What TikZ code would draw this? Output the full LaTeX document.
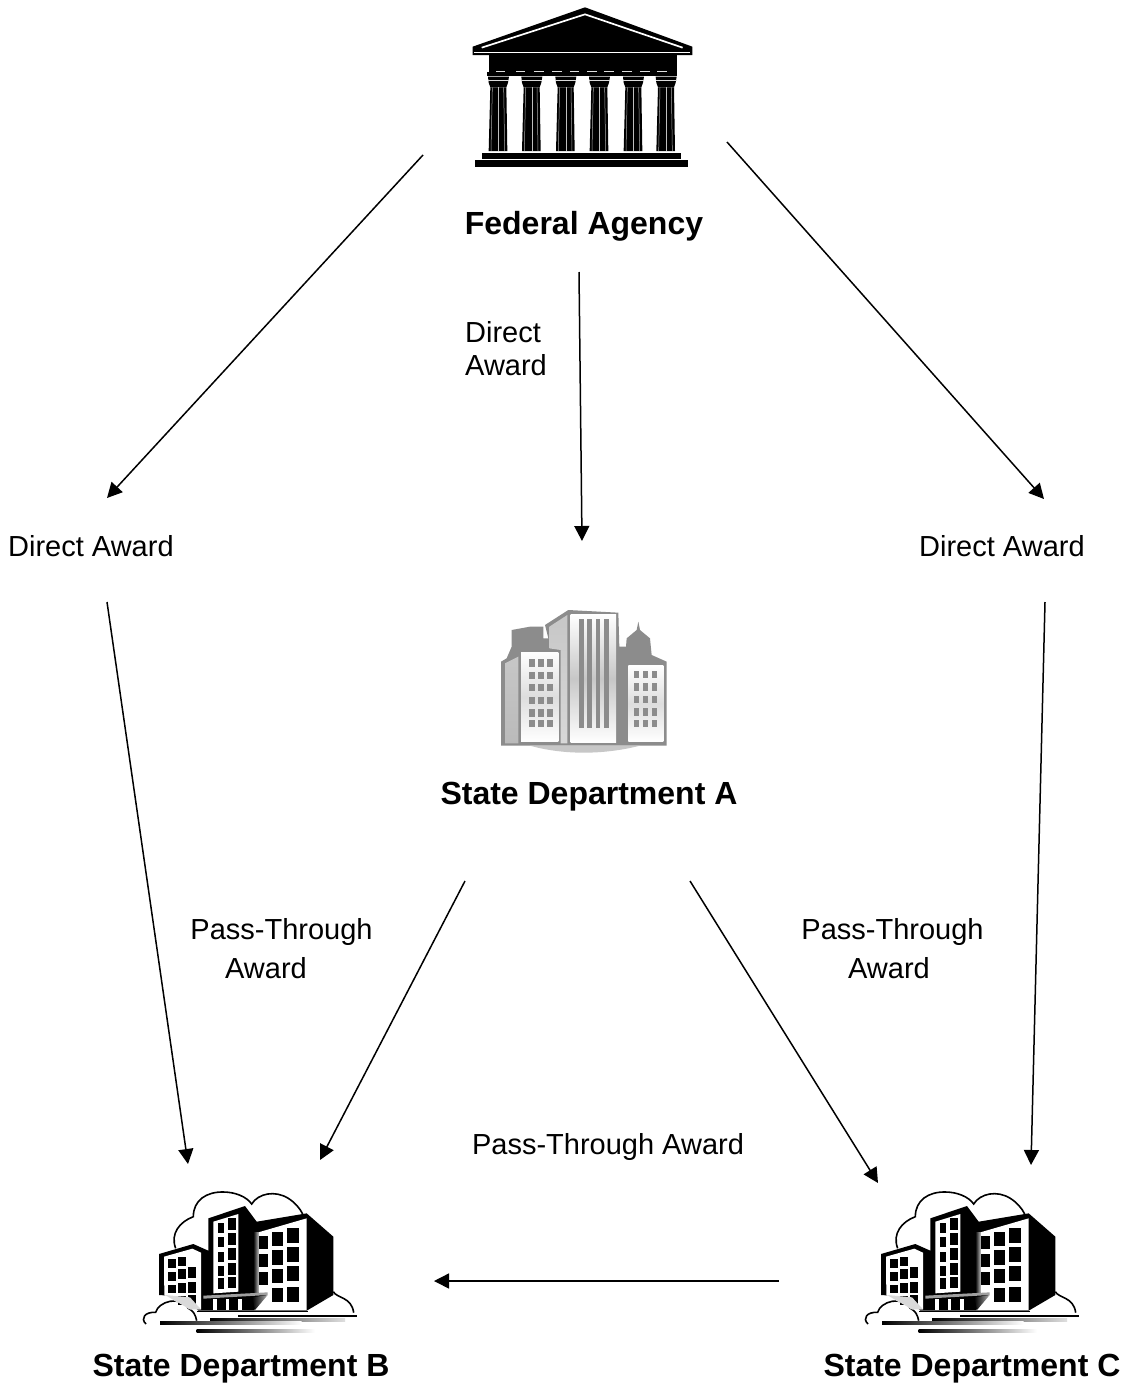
\documentclass[tikz,border=0pt]{standalone}
\usepackage{fontspec}
\setmainfont{Liberation Sans}
\usetikzlibrary{arrows.meta}
\newcommand{\regfont}{\fontsize{29}{33}\selectfont}
\newcommand{\boldfont}{\fontsize{32}{36}\selectfont\bfseries}
\definecolor{citygray}{gray}{0.55}
\definecolor{citylight}{gray}{0.78}
\tikzset{
  flow/.style={draw=black,line width=1.5pt,-{Triangle[length=15pt,width=15pt]}},
  plainlabel/.style={inner sep=0pt,font=\regfont,anchor=base},
  leftlabel/.style={inner sep=0pt,font=\regfont,anchor=base west},
  titlelabel/.style={inner sep=0pt,font=\boldfont,anchor=base},
  pics/temple/.style={code={
    \fill (38,140)--(375,22)--(697,140)--(697,165)--(38,165)--cycle;
    \draw[white,line width=1.7pt] (65,143)--(375,43)--(668,143);
    \draw[white,line width=1.3pt] (42,158)--(690,158);
    \fill (88,165) rectangle (650,216);
    \fill (82,216) rectangle (652,228);
    \foreach \a/\b in {108/135,168/195,222/252,276/305,330/358,382/410,433/462,487/516,540/570,592/622}
      \draw[gray!25,line width=1.3pt] (\a,214)--(\b,214);
    \foreach \c in {115,215,317,418,520,618}{
      \fill (\c-31,230)--(\c+32,230)--(\c+29,248)--(\c+24,262)--(\c-24,262)--(\c-29,248)--cycle;
      \draw[gray!30,line width=.5pt] (\c-31,240)--(\c+32,240);
      \fill (\c-24,262)--(\c+24,262)--(\c+27,453)--(\c-29,453)--cycle;
      \draw[gray!65,line width=.5pt] (\c-18,262)--(\c-22,453) (\c+16,262)--(\c+19,453);
      \draw[gray!50,line width=.3pt] (\c,262)--(\c,453);
    }
    \fill (65,458) rectangle (663,477);
    \fill (45,480) rectangle (685,500);
  }},
  pics/city/.style={code={
    \fill[citygray] (65,90)--(120,80)--(160,80)--(160,115)--(175,115)--(165,75)--(235,30)--(385,38)--(388,140)--(408,140)--(410,115)--(440,90)--(445,65)--(450,90)--(480,115)--(485,165)--(530,185)--(530,437)--(33,437)--(33,185)--(50,175)--(65,140)--cycle;
    \shade[top color=citylight,bottom color=citylight!70!white] (178,80)--(232,45)--(232,430)--(212,430)--(212,150)--(178,145)--cycle;
    \shade[top color=citylight,bottom color=citygray!60!white] (45,190)--(85,170)--(85,430)--(45,430)--cycle;
    \shade[top color=white,bottom color=white,middle color=citylight] (242,42) rectangle (378,428);
    \foreach \x in {267,292,317,343}
      \fill[citygray] (\x,57) rectangle (\x+14,385);
    \shade[top color=white,bottom color=white,middle color=citylight!60!white] (93,157) rectangle (205,425);
    \shade[top color=white,bottom color=white,middle color=citylight!60!white] (415,197) rectangle (520,425);
    \foreach \x in {118,145,172}\foreach \y in {178,215,252,290,328,360}
      \fill[citygray] (\x,\y) rectangle (\x+16,\y+22);
    \foreach \x in {432,458,485}\foreach \y in {213,250,287,325,360}
      \fill[citygray] (\x,\y) rectangle (\x+15,\y+22);
    \fill[citylight] (120,437) .. controls (220,465) and (340,465) .. (450,437)--cycle;
  }},
  pics/office/.style={code={
    % clouds
    \draw[line width=1.6pt] (122,205) .. controls (105,160) and (135,125) .. (175,110)
      .. controls (175,60) and (215,35) .. (265,36) .. controls (300,36) and (335,50) .. (350,72)
      .. controls (370,40) and (420,30) .. (460,55) .. controls (480,68) and (495,85) .. (503,102);
    \draw[line width=1.6pt] (595,335) .. controls (605,355) and (650,350) .. (656,398);
    \draw[line width=1.6pt] (33,432) .. controls (15,415) and (30,395) .. (62,397)
      .. controls (70,365) and (135,345) .. (160,385) .. controls (175,392) and (182,405) .. (185,422);
    % black masses
    \fill (220,115)--(330,78)--(365,125)--(515,100)--(595,170)--(595,345)--(515,392)--(190,392)--(150,350)--(72,345)--(72,222)--(175,192)--(220,212)--cycle;
    % right block
    \fill[white] (370,157)--(515,115)--(515,390)--(358,390)--(395,345)--(370,338)--cycle;
    \shade[left color=black,right color=gray!60] (355,157) rectangle (370,338);
    \foreach \xa/\xb/\ya/\yb in {
      372/400/168/207, 412/445/157/198, 457/492/145/188,
      372/400/222/262, 412/445/211/255, 457/492/202/246,
      372/400/275/315, 412/445/266/310, 457/492/258/304,
      412/445/325/367, 457/492/320/365}
      \fill (\xa,\ya) rectangle (\xb,\yb);
    % middle block
    \fill[white] (235,125)--(310,102)--(310,335)--(235,340)--cycle;
    \foreach \xa/\xb/\ya/\yb in {
      248/268/128/158, 280/303/115/150,
      248/268/170/200, 280/303/160/194,
      248/268/215/245, 280/303/205/240,
      248/268/258/288, 280/303/250/285,
      248/268/295/328, 280/303/290/325}
      \fill (\xa,\ya) rectangle (\xb,\yb);
    % left block
    \fill[white] (87,230)--(172,206)--(198,218)--(198,388)--(165,388)--(88,345)--cycle;
    \foreach \xa/\xb/\ya/\yb in {
      100/122/237/264, 130/152/230/258,
      100/122/275/302, 130/152/268/298, 160/182/262/295,
      100/122/314/340, 130/152/308/338, 160/182/305/338,
      130/152/348/375, 160/182/346/378}
      \fill (\xa,\ya) rectangle (\xb,\yb);
    \fill[gray!30] (90,345)--(165,352)--(198,388)--(165,388)--cycle;
    % canopy and doors
    \fill[gray!75] (205,347)--(398,337)--(398,345)--(205,356)--cycle;
    \shade[left color=black,right color=gray!60] (352,352)--(398,345)--(360,390)--cycle;
    \foreach \x in {235,272,310}
      \fill[white] (\x,357) rectangle (\x+10,390);
    % ground lines
    \fill (185,392) rectangle (520,396);
    \fill (310,404) rectangle (665,410);
    \shade[left color=black,right color=gray!25] (225,414) rectangle (630,423);
    \shade[left color=black,right color=white] (75,425) rectangle (500,433);
    \shade[left color=black,right color=white] (185,448) rectangle (540,458);
  }}
}
\begin{document}
\begin{tikzpicture}[x=1pt,y=-1pt]
\useasboundingbox (0,0) rectangle (1128,1387);
\fill[white] (0,0) rectangle (1128,1387);
% artwork
\pic[scale=1/3] (fedicon) at (460,0) {temple};
\pic[scale=1/3] (aicon) at (490,600) {city};
\pic[scale=1/3] (bicon) at (135,1180) {office};
\pic[scale=1/3] (cicon) at (857,1180) {office};
% titles
\node[titlelabel] (fed) at (584,234) {Federal Agency};
\node[titlelabel] (depa) at (589,804) {State Department A};
\node[titlelabel] (depb) at (241,1376) {State Department B};
\node[titlelabel] (depc) at (972,1376) {State Department C};
% labels
\node[leftlabel] (l1a) at (465,342) {Direct};
\node[leftlabel] (l1b) at (465,375) {Award};
\node[leftlabel] (l2) at (8,556) {Direct Award};
\node[leftlabel] (l3) at (919,556) {Direct Award};
\node[plainlabel] (l4a) at (281.5,939) {Pass-Through};
\node[plainlabel] (l4b) at (266,978) {Award};
\node[plainlabel] (l5a) at (892.5,939) {Pass-Through};
\node[plainlabel] (l5b) at (889,978) {Award};
\node[plainlabel] (l6) at (608,1154) {Pass-Through Award};
% connector ends
\coordinate (fl) at (423,155);  \coordinate (flh) at (107,498);
\coordinate (fm) at (579,272);  \coordinate (fmh) at (582,541);
\coordinate (fr) at (727,142);  \coordinate (frh) at (1044,499);
\coordinate (lb) at (107,602);  \coordinate (lbh) at (188,1164);
\coordinate (rc) at (1045,602); \coordinate (rch) at (1031,1165);
\coordinate (ab) at (465,881);  \coordinate (abh) at (320,1160);
\coordinate (ac) at (690,881);  \coordinate (ach) at (878,1183);
\coordinate (cb) at (779,1281); \coordinate (cbh) at (434,1281);
\foreach \s/\e in {fl/flh,fm/fmh,fr/frh,lb/lbh,rc/rch,ab/abh,ac/ach,cb/cbh}
  \draw[flow] (\s) -- (\e);
\end{tikzpicture}
\end{document}
